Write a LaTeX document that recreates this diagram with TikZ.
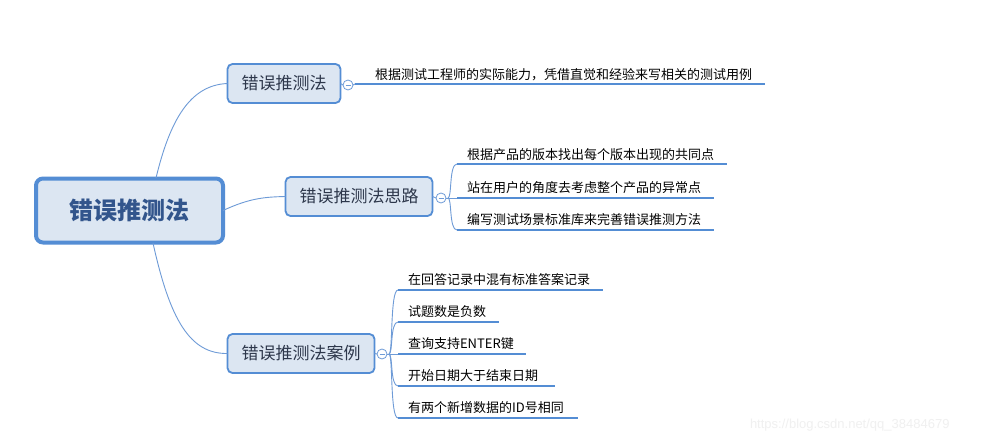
\documentclass[tikz,border=0pt]{standalone}
\usepackage{fontspec}
\setmainfont{Noto Sans CJK SC}
\newfontfamily\wmfont{Liberation Sans}
\begin{document}
\begin{tikzpicture}[x=1pt,y=-1pt,
  every node/.style={inner sep=0pt, outer sep=0pt},
  conn/.style={draw=lineblue, line width=0.9pt},
  rootbox/.style={draw=boxblue, fill=boxfill, line width=4pt, rounded corners=7pt, minimum width=187pt, minimum height=64pt, text=roottext, font=\fontsize{24}{26}\selectfont\bfseries},
  subbox/.style={draw=boxblue, fill=boxfill, line width=1.8pt, rounded corners=5pt, minimum height=39pt, text=subtext, font=\fontsize{17}{19}\selectfont},
  leafline/.style={draw=boxblue, line width=2.8pt},
  leaftext/.style={anchor=south west, font=\fontsize{13}{15}\selectfont, text=black},
  knob/.style={circle, draw=lineblue, fill=white, line width=0.8pt, minimum size=10pt},
]
\definecolor{lineblue}{RGB}{110,155,215}
\definecolor{boxblue}{RGB}{84,141,212}
\definecolor{boxfill}{RGB}{220,230,242}
\definecolor{roottext}{RGB}{50,85,140}
\definecolor{subtext}{RGB}{45,55,75}
\useasboundingbox (0,0) rectangle (1002,444);
\fill[white] (0,0) rectangle (1002,444);

% root
\node[rootbox] (root) at (129.5,210.5) {错误推测法};
\coordinate (rtop) at (156,178);
\coordinate (rbot) at (153,243);

% sub nodes
\node[subbox, minimum width=113pt] (n1) at (284,83.5) {错误推测法};
\node[subbox, minimum width=147pt] (n2) at (359,196.5) {错误推测法思路};
\node[subbox, minimum width=147pt] (n3) at (301,353.5) {错误推测法案例};

% root connectors
\draw[conn] (rtop) .. controls (170,120) and (190,85) .. (n1.west);
\draw[conn] (root.east) .. controls (250,198) and (265,197) .. (n2.west);
\draw[conn] (rbot) .. controls (170,320) and (190,354) .. (n3.west);

% knobs
\node[knob] (k1) at (348,85) {};
\node[knob] (k2) at (441,198) {};
\node[knob] (k3) at (382,354) {};
\draw[lineblue, line width=0.8pt] ([xshift=-2.5pt]k1.center) -- ([xshift=2.5pt]k1.center);
\draw[lineblue, line width=0.8pt] ([xshift=-2.5pt]k2.center) -- ([xshift=2.5pt]k2.center);
\draw[lineblue, line width=0.8pt] ([xshift=-2.5pt]k3.center) -- ([xshift=2.5pt]k3.center);
\draw[conn] (n1.east) -- (k1.west);
\draw[conn] (n2.east) -- (k2.west);
\draw[conn] (n3.east) -- (k3.west);

% branch 1 leaf
\coordinate (l1a) at (355,84); \coordinate (l1b) at (765,84);
\draw[conn] (k1.east) -- (l1a);
\draw[leafline] (l1a) -- (l1b);
\node[leaftext] (t1) at (375,81) {根据测试工程师的实际能力，凭借直觉和经验来写相关的测试用例};

% branch 2 leaves
\coordinate (j2) at (448,198);
\coordinate (l21a) at (457,164); \coordinate (l21b) at (727,164);
\coordinate (l22a) at (457,198); \coordinate (l22b) at (714,198);
\coordinate (l23a) at (457,230); \coordinate (l23b) at (714,230);
\draw[conn] (k2.east) -- (l22a);
\draw[conn] (j2) .. controls (452,198) and (449,164) .. (l21a);
\draw[conn] (j2) .. controls (452,198) and (449,230) .. (l23a);
\draw[leafline] (l21a) -- (l21b);
\draw[leafline] (l22a) -- (l22b);
\draw[leafline] (l23a) -- (l23b);
\node[leaftext] (t21) at (467,161) {根据产品的版本找出每个版本出现的共同点};
\node[leaftext] (t22) at (467,194) {站在用户的角度去考虑整个产品的异常点};
\node[leaftext] (t23) at (467,226) {编写测试场景标准库来完善错误推测方法};

% branch 3 leaves
\coordinate (j3) at (389,354);
\coordinate (l31a) at (398,290); \coordinate (l31b) at (603,290);
\coordinate (l32a) at (398,322); \coordinate (l32b) at (499,322);
\coordinate (l33a) at (398,354); \coordinate (l33b) at (526,354);
\coordinate (l34a) at (398,386); \coordinate (l34b) at (555,386);
\coordinate (l35a) at (398,418); \coordinate (l35b) at (578,418);
\draw[conn] (k3.east) -- (l33a);
\draw[conn] (j3) .. controls (393,354) and (390,290) .. (l31a);
\draw[conn] (j3) .. controls (393,354) and (390,322) .. (l32a);
\draw[conn] (j3) .. controls (393,354) and (390,386) .. (l34a);
\draw[conn] (j3) .. controls (393,354) and (390,418) .. (l35a);
\draw[leafline] (l31a) -- (l31b);
\draw[leafline] (l32a) -- (l32b);
\draw[leafline] (l33a) -- (l33b);
\draw[leafline] (l34a) -- (l34b);
\draw[leafline] (l35a) -- (l35b);
\node[leaftext] (t31) at (408,286) {在回答记录中混有标准答案记录};
\node[leaftext] (t32) at (408,318) {试题数是负数};
\node[leaftext] (t33) at (408,350) {查询支持ENTER键};
\node[leaftext] (t34) at (408,382) {开始日期大于结束日期};
\node[leaftext] (t35) at (408,414) {有两个新增数据的ID号相同};

% watermark
\node[anchor=west, font=\wmfont\fontsize{13}{15}\selectfont, text=black!6] (wm) at (750,425) {https://blog.csdn.net/qq\_38484679};
\end{tikzpicture}
\end{document}
